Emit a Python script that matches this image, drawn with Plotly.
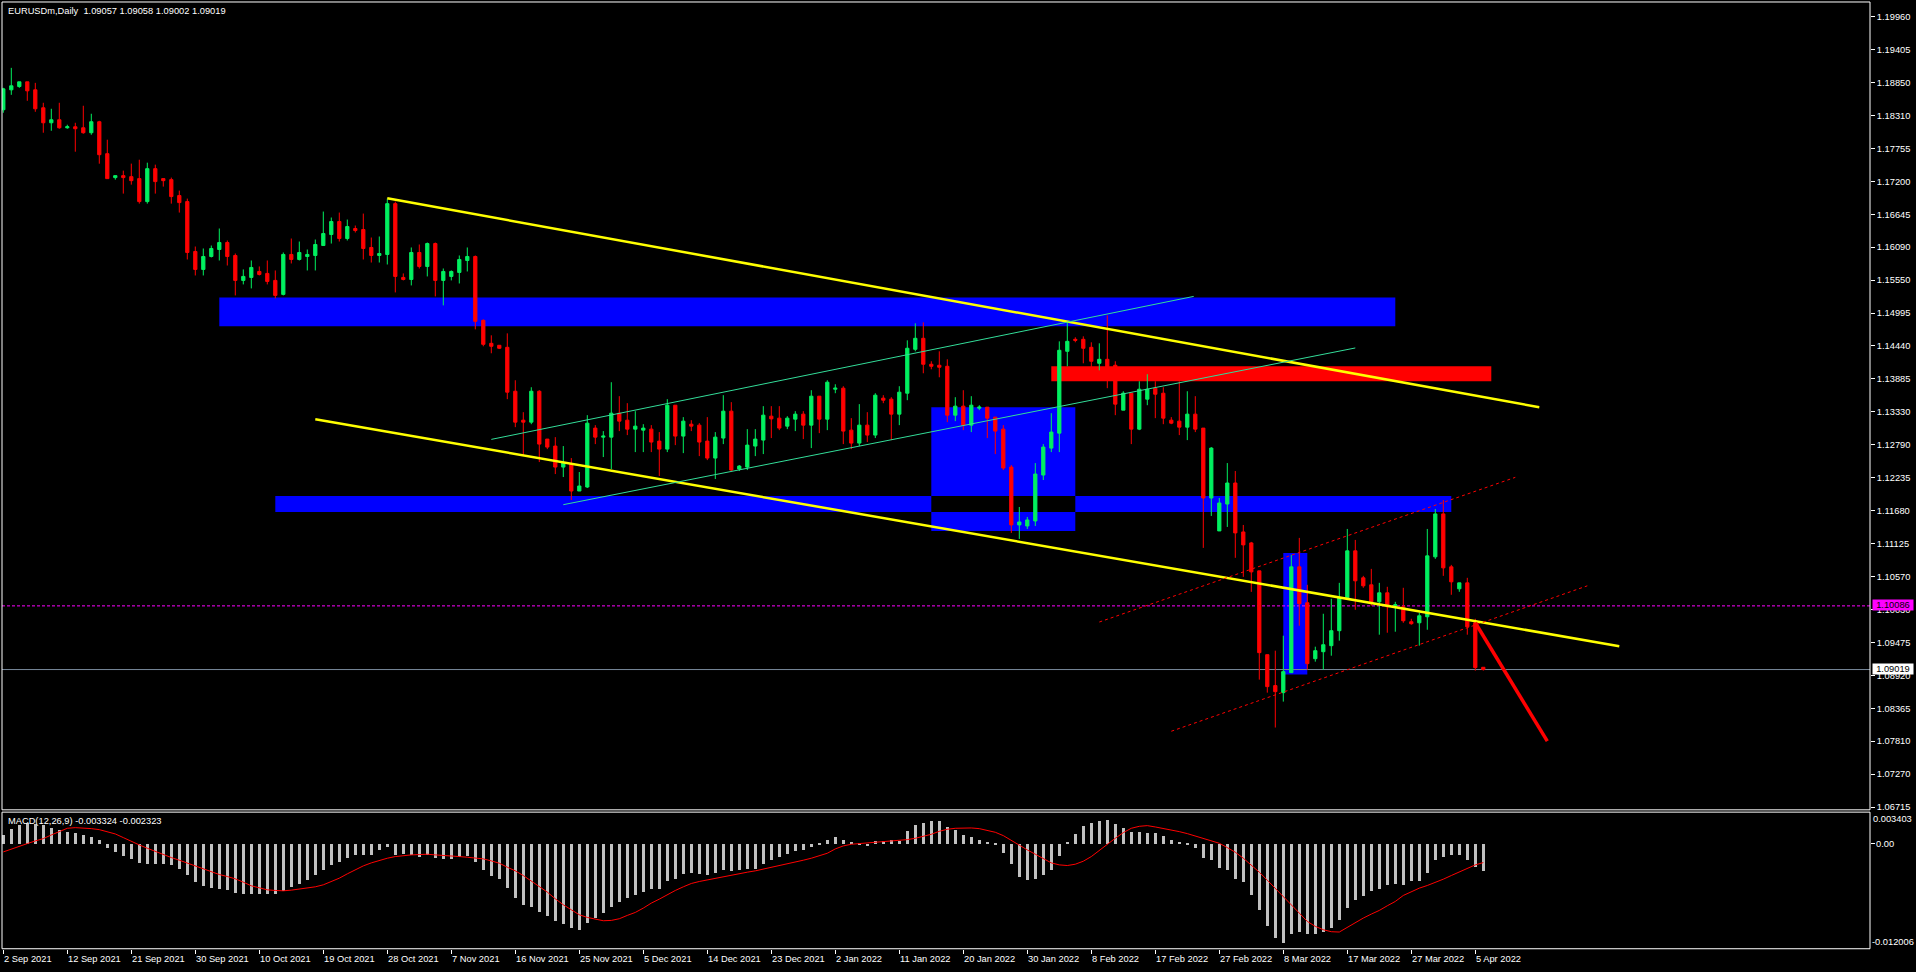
import plotly.graph_objects as go

W, H = 1916, 972

# ---------------- data ----------------
date_labels = ["2 Sep 2021", "12 Sep 2021", "21 Sep 2021", "30 Sep 2021", "10 Oct 2021",
               "19 Oct 2021", "28 Oct 2021", "7 Nov 2021", "16 Nov 2021", "25 Nov 2021",
               "5 Dec 2021", "14 Dec 2021", "23 Dec 2021", "2 Jan 2022", "11 Jan 2022",
               "20 Jan 2022", "30 Jan 2022", "8 Feb 2022", "17 Feb 2022", "27 Feb 2022",
               "8 Mar 2022", "17 Mar 2022", "27 Mar 2022", "5 Apr 2022"]

price_labels = ["1.19960", "1.19405", "1.18850", "1.18310", "1.17755", "1.17200", "1.16645",
                "1.16090", "1.15550", "1.14995", "1.14440", "1.13885", "1.13330", "1.12790",
                "1.12235", "1.11680", "1.11125", "1.10570", "1.10030", "1.09475", "1.08920",
                "1.08365", "1.07810", "1.07270", "1.06715"]

opens = [1.18400, 1.18734, 1.18790, 1.18868, 1.18734, 1.18433, 1.18182, 1.18232, 1.18098, 1.18115,
         1.18098, 1.18015, 1.18199, 1.17664, 1.17263, 1.17296, 1.17279, 1.17246, 1.16861, 1.17413,
         1.17246, 1.17229, 1.16962, 1.16861, 1.16025, 1.15724, 1.15941, 1.16058, 1.16175, 1.15958,
         1.15540, 1.15590, 1.15690, 1.15657, 1.15540, 1.15306, 1.15975, 1.15891, 1.15941, 1.15958,
         1.16125, 1.16309, 1.16527, 1.16242, 1.16410, 1.16393, 1.16092, 1.15958, 1.15975, 1.16827,
         1.15590, 1.15556, 1.16008, 1.15774, 1.16158, 1.15540, 1.15607, 1.15674, 1.15874, 1.15941,
         1.14871, 1.14486, 1.14453, 1.14419, 1.13683, 1.13198, 1.13165, 1.13683, 1.12881, 1.12764,
         1.12412, 1.12462, 1.12011, 1.12078, 1.13065, 1.12914, 1.12914, 1.13315, 1.13198, 1.13048,
         1.13031, 1.13048, 1.12847, 1.12713, 1.13449, 1.12931, 1.13131, 1.13115, 1.12847, 1.12563,
         1.12898, 1.13349, 1.12379, 1.12412, 1.12764, 1.12864, 1.13265, 1.13232, 1.13098, 1.13215,
         1.13299, 1.13115, 1.13600, 1.13215, 1.13717, 1.13734, 1.13031, 1.12814, 1.13115, 1.12948,
         1.13567, 1.13550, 1.13299, 1.13650, 1.14386, 1.14570, 1.14135, 1.14118, 1.14101, 1.13282,
         1.13433, 1.13115, 1.13399, 1.13416, 1.13249, 1.13048, 1.12412, 1.11443, 1.11425, 1.11509,
         1.12279, 1.12730, 1.12981, 1.14352, 1.14553, 1.14553, 1.14419, 1.14151, 1.14218, 1.14118,
         1.13366, 1.13650, 1.13048, 1.13550, 1.13734, 1.13650, 1.13198, 1.13182, 1.13081, 1.13299,
         1.13065, 1.11894, 1.11342, 1.11793, 1.12145, 1.11325, 1.11141, 1.10673, 1.09268, 1.08750,
         1.08632, 1.08967, 1.10740, 1.10138, 1.09201, 1.09318, 1.09419, 1.09670, 1.10221, 1.11008,
         1.10556, 1.10439, 1.10154, 1.10305, 1.10088, 1.10071, 1.09820, 1.09803, 1.09904, 1.10908,
         1.11627, 1.10740, 1.10372, 1.10472, 1.09803, 1.09057]

highs = [1.18767, 1.19102, 1.18868, 1.18868, 1.18851, 1.18517, 1.18416, 1.18517, 1.18149, 1.18182,
         1.18467, 1.18333, 1.18215, 1.17898, 1.17296, 1.17380, 1.17497, 1.17563, 1.17513, 1.17480,
         1.17246, 1.17263, 1.17045, 1.16911, 1.16108, 1.16075, 1.16125, 1.16410, 1.16209, 1.15991,
         1.15724, 1.15874, 1.15774, 1.15874, 1.15707, 1.16008, 1.16242, 1.16192, 1.16058, 1.16225,
         1.16694, 1.16594, 1.16677, 1.16560, 1.16460, 1.16660, 1.16259, 1.16276, 1.16911, 1.16861,
         1.15657, 1.16092, 1.16142, 1.16175, 1.16175, 1.15740, 1.15707, 1.15958, 1.16092, 1.15958,
         1.14887, 1.14620, 1.14453, 1.14653, 1.13867, 1.13332, 1.13750, 1.13700, 1.12881, 1.12914,
         1.12764, 1.12563, 1.12329, 1.13282, 1.13115, 1.13015, 1.13834, 1.13600, 1.13483, 1.13349,
         1.13131, 1.13115, 1.12998, 1.13550, 1.13449, 1.13249, 1.13198, 1.13148, 1.13249, 1.12998,
         1.13617, 1.13500, 1.12446, 1.13048, 1.13048, 1.13433, 1.13433, 1.13433, 1.13265, 1.13349,
         1.13349, 1.13700, 1.13600, 1.13867, 1.13800, 1.13767, 1.13232, 1.13467, 1.13332, 1.13650,
         1.13617, 1.13583, 1.13767, 1.14536, 1.14821, 1.14837, 1.14185, 1.14352, 1.14218, 1.13583,
         1.13700, 1.13600, 1.13449, 1.13416, 1.13249, 1.13115, 1.12446, 1.11743, 1.11576, 1.12479,
         1.12797, 1.13315, 1.14519, 1.14837, 1.14587, 1.14603, 1.14503, 1.14486, 1.14954, 1.14185,
         1.13683, 1.13650, 1.13850, 1.13968, 1.13850, 1.13750, 1.13249, 1.13850, 1.13683, 1.13600,
         1.13065, 1.12747, 1.11894, 1.12479, 1.12346, 1.11442, 1.11158, 1.10673, 1.09268, 1.09335,
         1.09586, 1.10941, 1.11225, 1.10439, 1.09402, 1.09954, 1.10205, 1.10472, 1.11375, 1.11191,
         1.10589, 1.10706, 1.10472, 1.10406, 1.10154, 1.10389, 1.09870, 1.09970, 1.11375, 1.11710,
         1.11860, 1.10773, 1.10472, 1.10556, 1.09870, 1.09058]

lows = [1.18350, 1.18650, 1.18767, 1.18550, 1.18366, 1.18015, 1.18048, 1.18082, 1.18082, 1.17697,
        1.17998, 1.17981, 1.17496, 1.17246, 1.17229, 1.16995, 1.17145, 1.16827, 1.16827, 1.16995,
        1.17112, 1.16827, 1.16677, 1.15891, 1.15623, 1.15623, 1.15925, 1.15874, 1.15790, 1.15289,
        1.15473, 1.15406, 1.15623, 1.15473, 1.15239, 1.15289, 1.15824, 1.15874, 1.15707, 1.15707,
        1.16125, 1.16158, 1.16192, 1.16209, 1.16343, 1.15891, 1.15840, 1.15840, 1.15807, 1.15339,
        1.15540, 1.15456, 1.15740, 1.15607, 1.15272, 1.15122, 1.15540, 1.15489, 1.15690, 1.14720,
        1.14436, 1.14319, 1.14390, 1.13550, 1.13081, 1.12613, 1.13131, 1.12496, 1.12713, 1.12295,
        1.12245, 1.11860, 1.12011, 1.12061, 1.12797, 1.12580, 1.12379, 1.13015, 1.12948, 1.12663,
        1.12663, 1.12663, 1.12262, 1.12663, 1.12780, 1.12646, 1.13015, 1.12596, 1.12529, 1.12212,
        1.12797, 1.12346, 1.12346, 1.12362, 1.12596, 1.12630, 1.12898, 1.13031, 1.13048, 1.13015,
        1.12881, 1.12730, 1.12981, 1.13031, 1.13650, 1.12797, 1.12713, 1.12764, 1.12831, 1.12898,
        1.13483, 1.12864, 1.13115, 1.13533, 1.14352, 1.13984, 1.14051, 1.13917, 1.13165, 1.13182,
        1.13031, 1.12998, 1.13366, 1.12898, 1.12630, 1.12362, 1.11309, 1.11208, 1.11375, 1.11425,
        1.12195, 1.12663, 1.12663, 1.14101, 1.14503, 1.14151, 1.14034, 1.14034, 1.13734, 1.13282,
        1.13366, 1.12797, 1.13031, 1.13449, 1.13232, 1.13131, 1.13131, 1.12948, 1.12864, 1.12998,
        1.11058, 1.11593, 1.11342, 1.11409, 1.10891, 1.10572, 1.10321, 1.08850, 1.08632, 1.08047,
        1.08482, 1.08967, 1.09753, 1.09017, 1.09151, 1.09017, 1.09251, 1.09503, 1.10221, 1.10021,
        1.10389, 1.10088, 1.09603, 1.09636, 1.09653, 1.09803, 1.09770, 1.09419, 1.09686, 1.10874,
        1.10589, 1.10272, 1.10322, 1.09603, 1.09000, 1.09002]

closes = [1.18750, 1.18801, 1.18868, 1.18717, 1.18416, 1.18182, 1.18232, 1.18098, 1.18115, 1.18082,
          1.18015, 1.18199, 1.17647, 1.17246, 1.17296, 1.17263, 1.17212, 1.16861, 1.17413, 1.17196,
          1.17212, 1.16945, 1.16844, 1.16008, 1.15724, 1.15941, 1.16075, 1.16175, 1.15941, 1.15540,
          1.15607, 1.15757, 1.15640, 1.15523, 1.15289, 1.15975, 1.15891, 1.16008, 1.15975, 1.16142,
          1.16326, 1.16527, 1.16242, 1.16443, 1.16376, 1.16075, 1.15958, 1.15991, 1.16827, 1.15607,
          1.15556, 1.16008, 1.15774, 1.16158, 1.15540, 1.15690, 1.15690, 1.15891, 1.15941, 1.14854,
          1.14469, 1.14436, 1.14403, 1.13667, 1.13165, 1.13165, 1.13683, 1.12797, 1.12747, 1.12412,
          1.12479, 1.12011, 1.12095, 1.13148, 1.12914, 1.12931, 1.13315, 1.13182, 1.13048, 1.13098,
          1.13065, 1.12831, 1.12713, 1.13449, 1.12931, 1.13182, 1.13098, 1.12831, 1.12563, 1.12914,
          1.13349, 1.12362, 1.12429, 1.12780, 1.12881, 1.13282, 1.13220, 1.13065, 1.13232, 1.13299,
          1.13115, 1.13600, 1.13215, 1.13834, 1.13734, 1.13015, 1.12814, 1.13115, 1.12948, 1.13617,
          1.13533, 1.13299, 1.13667, 1.14403, 1.14570, 1.14135, 1.14101, 1.14085, 1.13282, 1.13433,
          1.13115, 1.13449, 1.13416, 1.13232, 1.13015, 1.12396, 1.11443, 1.11492, 1.11526, 1.12295,
          1.12747, 1.12998, 1.14369, 1.14519, 1.14536, 1.14403, 1.14185, 1.14218, 1.13984, 1.13467,
          1.13650, 1.13048, 1.13717, 1.13717, 1.13633, 1.13232, 1.13148, 1.13081, 1.13299, 1.13048,
          1.11894, 1.12730, 1.11810, 1.12145, 1.11309, 1.11108, 1.10656, 1.09302, 1.08733, 1.08649,
          1.08984, 1.10740, 1.10121, 1.09118, 1.09335, 1.09435, 1.09670, 1.10221, 1.11008, 1.10506,
          1.10422, 1.10154, 1.10305, 1.10071, 1.10104, 1.09837, 1.09787, 1.09920, 1.10924, 1.11627,
          1.10723, 1.10489, 1.10472, 1.09736, 1.09051, 1.09019]

macd_main = [0.00108, 0.00172, 0.00220, 0.00248, 0.00240, 0.00220, 0.00188, 0.00160, 0.00140, 0.00128,
             0.00100, 0.00080, 0.00040, -0.00048, -0.00100, -0.00148, -0.00180, -0.00232, -0.00240, -0.00248,
             -0.00248, -0.00260, -0.00300, -0.00380, -0.00460, -0.00512, -0.00532, -0.00540, -0.00560, -0.00592,
             -0.00608, -0.00600, -0.00600, -0.00600, -0.00600, -0.00568, -0.00520, -0.00480, -0.00432, -0.00372,
             -0.00320, -0.00260, -0.00220, -0.00172, -0.00140, -0.00140, -0.00140, -0.00080, -0.00040, -0.00132,
             -0.00120, -0.00140, -0.00160, -0.00140, -0.00172, -0.00180, -0.00180, -0.00160, -0.00148, -0.00220,
             -0.00320, -0.00388, -0.00420, -0.00532, -0.00652, -0.00740, -0.00760, -0.00820, -0.00868, -0.00932,
             -0.00972, -0.01020, -0.01040, -0.00960, -0.00900, -0.00840, -0.00760, -0.00700, -0.00652, -0.00620,
             -0.00580, -0.00548, -0.00540, -0.00452, -0.00420, -0.00360, -0.00348, -0.00360, -0.00372, -0.00348,
             -0.00320, -0.00328, -0.00320, -0.00308, -0.00300, -0.00240, -0.00192, -0.00160, -0.00120, -0.00092,
             -0.00080, -0.00040, -0.00020, 0.00040, 0.00080, 0.00048, 0.00008, -0.00008, -0.00028, 0.00028,
             0.00028, 0.00040, 0.00028, 0.00152, 0.00228, 0.00252, 0.00272, 0.00272, 0.00200, 0.00160,
             0.00108, 0.00080, 0.00040, 0.00020, -0.00020, -0.00108, -0.00248, -0.00400, -0.00440, -0.00420,
             -0.00372, -0.00320, -0.00148, 0.00012, 0.00120, 0.00208, 0.00252, 0.00268, 0.00288, 0.00240,
             0.00188, 0.00140, 0.00140, 0.00132, 0.00132, 0.00088, 0.00040, 0.00020, -0.00012, -0.00052,
             -0.00172, -0.00200, -0.00288, -0.00320, -0.00420, -0.00460, -0.00620, -0.00800, -0.00992, -0.01132,
             -0.01200, -0.01092, -0.01060, -0.01088, -0.01092, -0.01060, -0.01020, -0.00920, -0.00780, -0.00680,
             -0.00628, -0.00572, -0.00540, -0.00492, -0.00480, -0.00492, -0.00452, -0.00452, -0.00348, -0.00200,
             -0.00160, -0.00140, -0.00132, -0.00192, -0.00280, -0.003324]

macd_signal = [-0.00104, -0.00068, -0.00040, -0.00004, 0.00028, 0.00056, 0.00100, 0.00140, 0.00180, 0.00188,
               0.00184, 0.00176, 0.00164, 0.00140, 0.00112, 0.00068, 0.00020, -0.00020, -0.00060, -0.00100,
               -0.00140, -0.00172, -0.00204, -0.00240, -0.00276, -0.00312, -0.00348, -0.00376, -0.00400, -0.00428,
               -0.00468, -0.00512, -0.00536, -0.00560, -0.00568, -0.00572, -0.00564, -0.00552, -0.00540, -0.00524,
               -0.00500, -0.00464, -0.00420, -0.00368, -0.00316, -0.00272, -0.00236, -0.00204, -0.00180, -0.00160,
               -0.00148, -0.00140, -0.00136, -0.00132, -0.00140, -0.00144, -0.00152, -0.00160, -0.00168, -0.00180,
               -0.00188, -0.00212, -0.00240, -0.00288, -0.00332, -0.00388, -0.00452, -0.00520, -0.00588, -0.00668,
               -0.00740, -0.00800, -0.00860, -0.00892, -0.00916, -0.00932, -0.00928, -0.00908, -0.00868, -0.00832,
               -0.00780, -0.00720, -0.00672, -0.00616, -0.00568, -0.00524, -0.00484, -0.00460, -0.00440, -0.00424,
               -0.00404, -0.00380, -0.00364, -0.00348, -0.00332, -0.00312, -0.00292, -0.00272, -0.00252, -0.00232,
               -0.00204, -0.00180, -0.00152, -0.00120, -0.00068, -0.00032, -0.00012, -0.00004, 0.00000, 0.00008,
               0.00016, 0.00020, 0.00032, 0.00044, 0.00060, 0.00080, 0.00108, 0.00144, 0.00168, 0.00180,
               0.00184, 0.00184, 0.00176, 0.00156, 0.00132, 0.00092, 0.00032, -0.00024, -0.00080, -0.00132,
               -0.00180, -0.00236, -0.00260, -0.00268, -0.00252, -0.00216, -0.00160, -0.00084, -0.00012, 0.00060,
               0.00128, 0.00180, 0.00204, 0.00212, 0.00196, 0.00180, 0.00160, 0.00140, 0.00116, 0.00088,
               0.00060, 0.00032, 0.00000, -0.00052, -0.00108, -0.00180, -0.00264, -0.00348, -0.00444, -0.00540,
               -0.00640, -0.00740, -0.00840, -0.00940, -0.01000, -0.01040, -0.01064, -0.01068, -0.01012, -0.00948,
               -0.00900, -0.00852, -0.00808, -0.00752, -0.00700, -0.00628, -0.00584, -0.00540, -0.00508, -0.00472,
               -0.00432, -0.00388, -0.00348, -0.00300, -0.00260, -0.002323]

# drawn objects: (bar index, price) anchors
zones_blue = [(27, 174, 1.14770, 1.15255),   # upper supply band
              (34, 181, 1.11660, 1.11927),   # long lower band
              (116, 134, 1.11342, 1.13415),  # square box
              (160, 163, 1.08934, 1.10974)]  # small box
zone_red = (131, 186, 1.13851, 1.14101)
yellow_lines = [((48, 1.16916), (192, 1.13415)), ((39, 1.13215), (202, 1.09410))]
green_lines = [((61, 1.12876), (148.8, 1.15272)), ((70, 1.11782), (169, 1.14408))]
red_dotted = [((137, 1.09815), (189, 1.12240)), ((146, 1.07985), (198, 1.10422))]
red_arrow = ((184, 1.09803), (193, 1.07818))
alert_level = 1.10086
bid_level = 1.09019
title_text = "EURUSDm,Daily  1.09057 1.09058 1.09002 1.09019"
macd_text = "MACD(12,26,9) -0.003324 -0.002323"
macd_scale_labels = ["0.003403", "0.00", "-0.012006"]

# ---------------- geometry ----------------
PX_PER_BAR = 8.0
BAR0_PX = 3.3
LEFT_PX, RIGHT_PX = 2, 1870
MAIN_TOP, MAIN_BOT = 2, 812
MACD_TOP, MACD_BOT = 813.3, 950.7


def xp(px):
    return px / W


def yp(py):
    return 1 - py / H


x_range = [(LEFT_PX - BAR0_PX) / PX_PER_BAR, (RIGHT_PX - BAR0_PX) / PX_PER_BAR]
PRICE_PER_PX = 1 / 5979.6
price_top = 1.19960 + (16.7 - MAIN_TOP) * PRICE_PER_PX
price_bot = 1.19960 - (MAIN_BOT - 16.7) * PRICE_PER_PX
label_step = (1.19960 - 1.06715) / (len(price_labels) - 1)
tick_vals = [1.19960 - i * label_step for i in range(len(price_labels))]

MACD_PX_PER_UNIT = 8330.0
macd_zero_px = 845.0
macd_top = (macd_zero_px - MACD_TOP) / MACD_PX_PER_UNIT
macd_bot = -(MACD_BOT - macd_zero_px) / MACD_PX_PER_UNIT

GREEN = "#00F060"
RED = "#FF0000"
FONT = "Liberation Sans"
FS = 9.3

bars = list(range(len(opens)))

fig = go.Figure()
fig.add_trace(go.Candlestick(
    x=bars, open=opens, high=highs, low=lows, close=closes,
    increasing=dict(line=dict(color=GREEN, width=1), fillcolor=GREEN),
    decreasing=dict(line=dict(color=RED, width=1), fillcolor=RED),
    whiskerwidth=0, hoverinfo="skip", xaxis="x", yaxis="y", showlegend=False))
fig.add_trace(go.Bar(
    x=bars, y=macd_main, width=0.45, marker=dict(color="#C0C0C0", line=dict(width=0)),
    xaxis="x2", yaxis="y2", hoverinfo="skip", showlegend=False))
fig.add_trace(go.Scatter(
    x=bars, y=macd_signal, mode="lines", line=dict(color=RED, width=1),
    xaxis="x2", yaxis="y2", hoverinfo="skip", showlegend=False))

shapes = []
for (x0, x1, y0, y1) in zones_blue:
    shapes.append(dict(type="rect", xref="x", yref="y", x0=x0, x1=x1, y0=y0, y1=y1,
                       fillcolor="#0000FF", line=dict(width=0), layer="below"))
# XOR overlap of the long band and the square box shows as black
b, s = zones_blue[1], zones_blue[2]
shapes.append(dict(type="rect", xref="x", yref="y", x0=max(b[0], s[0]), x1=min(b[1], s[1]),
                   y0=max(b[2], s[2]), y1=min(b[3], s[3]),
                   fillcolor="#000000", line=dict(width=0), layer="below"))
shapes.append(dict(type="rect", xref="x", yref="y", x0=zone_red[0], x1=zone_red[1],
                   y0=zone_red[2], y1=zone_red[3], fillcolor=RED, line=dict(width=0), layer="below"))
shapes.append(dict(type="line", xref="x", yref="y", x0=x_range[0], x1=x_range[1],
                   y0=alert_level, y1=alert_level, line=dict(color="#FF00FF", width=1, dash="3px,2px"),
                   layer="below"))
shapes.append(dict(type="line", xref="x", yref="y", x0=x_range[0], x1=x_range[1],
                   y0=bid_level, y1=bid_level, line=dict(color="#778899", width=1), layer="below"))
for (a, bb) in yellow_lines:
    shapes.append(dict(type="line", xref="x", yref="y", x0=a[0], y0=a[1], x1=bb[0], y1=bb[1],
                       line=dict(color="#FFFF00", width=2.5)))
for (a, bb) in green_lines:
    shapes.append(dict(type="line", xref="x", yref="y", x0=a[0], y0=a[1], x1=bb[0], y1=bb[1],
                       line=dict(color="#33DD99", width=1)))
for (a, bb) in red_dotted:
    shapes.append(dict(type="line", xref="x", yref="y", x0=a[0], y0=a[1], x1=bb[0], y1=bb[1],
                       line=dict(color=RED, width=1, dash="3px,3px")))
shapes.append(dict(type="line", xref="x", yref="y", x0=red_arrow[0][0], y0=red_arrow[0][1],
                   x1=red_arrow[1][0], y1=red_arrow[1][1], line=dict(color=RED, width=3.5)))
# panel frames
shapes.append(dict(type="rect", xref="paper", yref="paper", x0=xp(LEFT_PX), x1=xp(RIGHT_PX),
                   y0=yp(MAIN_BOT - 0.5), y1=yp(MAIN_TOP), line=dict(color="white", width=1)))
shapes.append(dict(type="rect", xref="paper", yref="paper", x0=xp(LEFT_PX), x1=xp(RIGHT_PX),
                   y0=yp(MACD_BOT), y1=yp(MACD_TOP + 0.5), line=dict(color="white", width=1)))

txt_font = dict(family=FONT, size=FS, color="white")
annotations = [
    dict(text=title_text, xref="paper", yref="paper", x=xp(6), y=yp(11), xanchor="left",
         yanchor="middle", showarrow=False, font=txt_font),
    dict(text=macd_text, xref="paper", yref="paper", x=xp(6), y=yp(823), xanchor="left",
         yanchor="middle", showarrow=False, font=txt_font),
    dict(text=macd_scale_labels[0], xref="paper", yref="paper", x=xp(1871), y=yp(821),
         xanchor="left", yanchor="middle", showarrow=False, font=txt_font),
    dict(text=macd_scale_labels[1], xref="paper", yref="paper", x=xp(1874), y=yp(846),
         xanchor="left", yanchor="middle", showarrow=False, font=txt_font),
    dict(text=macd_scale_labels[2], xref="paper", yref="paper", x=xp(1870), y=yp(944),
         xanchor="left", yanchor="middle", showarrow=False, font=txt_font),
    dict(text=f"{alert_level:.5f}", xref="paper", yref="paper", x=xp(1872), y=yp(606),
         xanchor="left", yanchor="middle", showarrow=False, bgcolor="#FF00FF", borderpad=0,
         font=dict(family=FONT, size=FS, color="black"), width=40, height=10),
    dict(text=f"{bid_level:.5f}", xref="paper", yref="paper", x=xp(1872), y=yp(670.5),
         xanchor="left", yanchor="middle", showarrow=False, bgcolor="white", borderpad=0,
         font=dict(family=FONT, size=FS, color="black"), width=40, height=10),
]
label_bars = [8 * i for i in range(len(date_labels))]
for k, t in zip(label_bars, date_labels):
    annotations.append(dict(text=t, xref="x2", yref="paper", x=k, y=yp(961), xanchor="left",
                            yanchor="middle", showarrow=False, borderpad=0, font=txt_font))

fig.update_layout(
    width=W, height=H, margin=dict(l=0, r=0, t=0, b=0),
    paper_bgcolor="black", plot_bgcolor="black", showlegend=False,
    boxgap=0.42, bargap=0,
    xaxis=dict(domain=[xp(LEFT_PX), xp(RIGHT_PX)], range=x_range, showgrid=False, zeroline=False,
               showticklabels=False, ticks="", rangeslider=dict(visible=False), anchor="y",
               fixedrange=True),
    yaxis=dict(domain=[yp(MAIN_BOT), yp(MAIN_TOP)], range=[price_bot, price_top], side="right",
               tickvals=tick_vals, ticktext=price_labels, ticks="outside", ticklen=4,
               tickcolor="white", tickfont=txt_font,
               showgrid=False, zeroline=False, anchor="x", fixedrange=True),
    xaxis2=dict(domain=[xp(LEFT_PX), xp(RIGHT_PX)], range=x_range, showgrid=False, zeroline=False,
                tickvals=label_bars, ticks="outside", ticklen=4, tickcolor="white",
                showticklabels=False, anchor="y2", fixedrange=True),
    yaxis2=dict(domain=[yp(MACD_BOT), yp(MACD_TOP)], range=[macd_bot, macd_top], side="right",
                tickvals=[0], ticks="outside", ticklen=4, tickcolor="white", showticklabels=False,
                showgrid=False, zeroline=False, anchor="x2", fixedrange=True),
    shapes=shapes, annotations=annotations,
)

fig.write_html("out.html", config={"displayModeBar": False},
               post_script="document.body.style.margin='0px';document.body.style.overflow='hidden';")
